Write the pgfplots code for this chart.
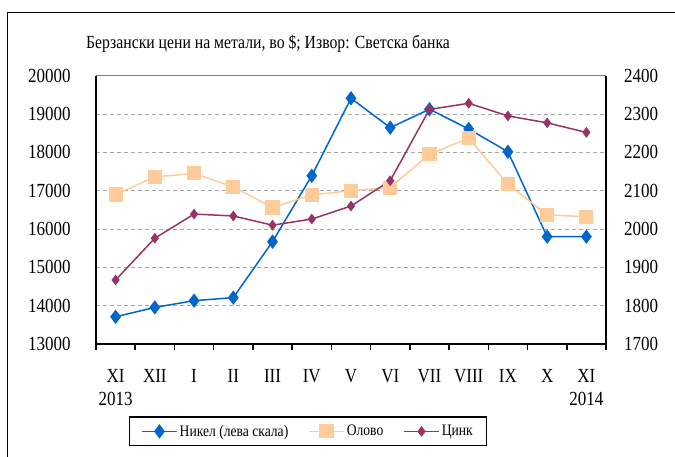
\documentclass[border=0pt]{standalone}
\usepackage{fontspec}
\setmainfont[FakeStretch=0.85]{Liberation Serif}
\usepackage{pgfplots}
\pgfplotsset{compat=1.18}

\definecolor{nikel}{HTML}{0066CC}
\definecolor{olovo}{HTML}{FFCC99}
\definecolor{cink}{HTML}{993366}
\definecolor{gridgray}{HTML}{A6A6A6}

\pgfplotstableread{
x nikel olovo cink
0  13710 2090 1867
1  13955 2136 1976
2  14130 2145 2039
3  14210 2110 2034
4  15670 2056 2010
5  17390 2089 2026
6  19410 2100 2060
7  18645 2108 2126
8  19125 2195 2312
9  18610 2237 2328
10 18015 2117 2295
11 15800 2037 2277
12 15800 2032 2252
}\metals

\pgfplotsset{
  common/.style={
    at={(96pt,113pt)}, anchor=south west,
    scale only axis, width=510pt, height=268.3pt,
    xmin=-0.5, xmax=12.5,
    axis line style={line width=1.6pt},
    scaled y ticks=false,
    /pgf/number format/assume math mode=true,
    /pgf/number format/1000 sep={},
    ticklabel style={font=\fontsize{20}{23.3}\selectfont},
    ytick style={draw=none},
  }
}

\begin{document}
\begin{tikzpicture}[x=1pt,y=1pt]
\useasboundingbox (0,0) rectangle (675,457);
\draw[line width=1.3pt] (7.3,0) -- (7.3,444.7) -- (675,444.7);
\node[font=\fontsize{18.5}{22}\selectfont] at (268,413)
  {Берзански цени на метали, во \$; Извор: Светска банка};

\begin{axis}[common,
  ymin=13000, ymax=20000,
  ytick={13000,14000,...,20000},
  axis x line*=bottom, axis y line*=left,
  ymajorgrids, major grid style={gridgray, line width=1pt, dash pattern=on 4pt off 3pt},
  xtick={0,...,12},
  xticklabels={{XI\\2013},XII,I,II,III,IV,V,VI,VII,VIII,IX,X,{XI\\2014}},
  xticklabel style={align=center, anchor=north, inner sep=0pt, yshift=-21pt},
  major x tick style={draw=none},
  minor xtick={-0.5,0.5,1.5,2.5,3.5,4.5,5.5,6.5,7.5,8.5,9.5,10.5,11.5,12.5},
  minor x tick style={black, line width=1.6pt},
  minor tick length=6pt, tick align=outside,
  yticklabel style={anchor=east, inner sep=0pt, xshift=-21pt},
]
\draw[gray, line width=1.6pt] (rel axis cs:0,1) -- (rel axis cs:1,1);
\addplot[nikel, line width=1.5pt, mark=diamond*, mark size=6pt] table[x=x, y=nikel] {\metals};
\end{axis}

\begin{axis}[common,
  ymin=1700, ymax=2400,
  ytick={1700,1800,...,2400},
  axis y line*=right, axis x line=none,
  yticklabel style={anchor=west, inner sep=0pt, xshift=18pt},
  legend style={at={(0.4157,-0.3258)}, anchor=center, draw=black, line width=1.3pt,
    legend columns=3, font=\fontsize{16}{19}\selectfont,
    inner xsep=12pt, inner ysep=6pt,
    nodes={inner sep=2pt},
    /tikz/every even column/.append style={column sep=18pt}},
  legend image code/.code={\draw[mark repeat=2, mark phase=2, #1] plot coordinates {(0pt,0pt) (17.5pt,0pt) (35pt,0pt)};},
]
\addlegendimage{nikel, line width=1.5pt, mark=diamond*, mark size=6pt}
\addlegendentry{Никел (лева скала)}
\addplot[olovo, line width=1.5pt, mark=square*, mark size=6.3pt] table[x=x, y=olovo] {\metals};
\addlegendentry{Олово}
\addplot[cink, line width=1.5pt, mark=diamond*, mark size=4.2pt] table[x=x, y=cink] {\metals};
\addlegendentry{Цинк}
\end{axis}
\end{tikzpicture}
\end{document}
